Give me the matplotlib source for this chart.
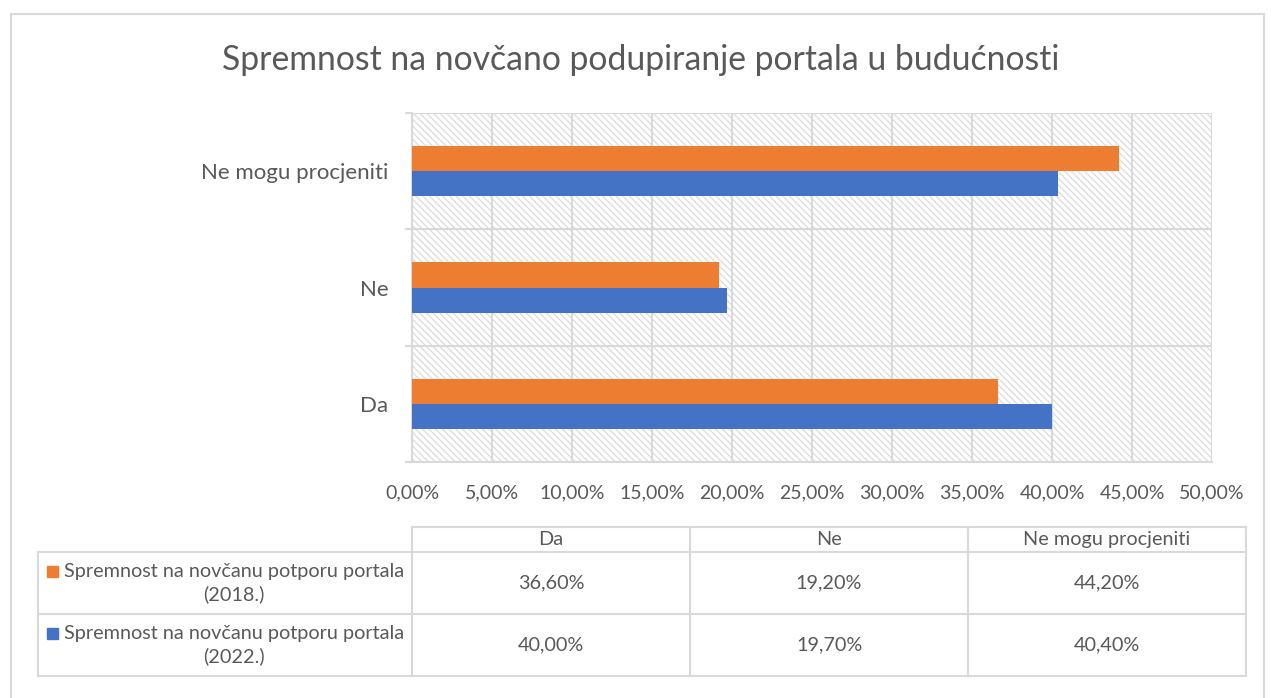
import matplotlib.pyplot as plt
from matplotlib.patches import Rectangle
from matplotlib.lines import Line2D

plt.rcParams['font.family'] = ['Lato', 'DejaVu Sans']
plt.rcParams['hatch.linewidth'] = 1.0

categories = ['Da', 'Ne', 'Ne mogu procjeniti']
series_names = ['Spremnost na novčanu potporu portala\n(2018.)',
                'Spremnost na novčanu potporu portala\n(2022.)']
vals_2018 = [36.6, 19.2, 44.2]
vals_2022 = [40.0, 19.7, 40.4]
colors = ['#ED7D31', '#4472C4']
xticks = [0, 5, 10, 15, 20, 25, 30, 35, 40, 45, 50]

W, H = 1271, 698
text_col = '#595959'
grid_col = '#d9d9d9'


def fx(px):
    return px / W


def fy(py):
    return 1 - py / H


def pct(v):
    return f'{v:.2f}%'.replace('.', ',')


fig = plt.figure(figsize=(W / 100, H / 100), dpi=100)

# outer chart frame
fig.patches.append(Rectangle((fx(11), fy(720)), fx(1253), fy(14) - fy(720),
                             transform=fig.transFigure, fill=False,
                             edgecolor=grid_col, lw=1.5))

fig.text(fx(641), fy(60), 'Spremnost na novčano podupiranje portala u budućnosti',
         ha='center', va='center', fontsize=24.3, color=text_col)

ax = fig.add_axes([fx(412), fy(462), fx(1212) - fx(412), fy(113) - fy(462)])

# hatched background
ax.add_patch(Rectangle((0, 0), 1, 1, transform=ax.transAxes, facecolor='white',
                       edgecolor='#dedede', hatch='\\' * 5, lw=0, zorder=0))

y = list(range(len(categories)))
h = 0.215
ax.barh([v + h / 2 for v in y], vals_2018, height=h, color=colors[0], zorder=3)
ax.barh([v - h / 2 for v in y], vals_2022, height=h, color=colors[1], zorder=3)

ax.set_xlim(0, 50)
ax.set_ylim(-0.5, 2.5)
ax.set_xticks(xticks)
ax.set_xticklabels([pct(t) for t in xticks], fontsize=14, color=text_col)
ax.set_yticks(y)
ax.set_yticklabels(categories, fontsize=16, color=text_col)
ax.set_yticks([v - 0.5 for v in y] + [2.5], minor=True)
ax.tick_params(axis='x', length=0, pad=16)
ax.tick_params(axis='y', which='major', length=0, pad=17)
ax.tick_params(axis='y', which='minor', length=5, color=grid_col, width=1.5)
ax.grid(axis='x', which='major', color=grid_col, lw=1.5, zorder=1)
ax.grid(axis='y', which='minor', color=grid_col, lw=1.5, zorder=1)
for s in ['top', 'right']:
    ax.spines[s].set_visible(False)
for s in ['left', 'bottom']:
    ax.spines[s].set_color(grid_col)
    ax.spines[s].set_linewidth(1.5)

# data table below the chart
col_x = [412, 690, 968, 1246]
row_y = [527, 552, 614, 676]
lab_x0 = 38
lines = []
lines.append(([col_x[0], col_x[-1]], [row_y[0], row_y[0]]))
for ry in row_y[1:]:
    lines.append(([lab_x0, col_x[-1]], [ry, ry]))
for cx in col_x:
    lines.append(([cx, cx], [row_y[0], row_y[-1]]))
lines.append(([lab_x0, lab_x0], [row_y[1], row_y[-1]]))
for xs, ys in lines:
    fig.add_artist(Line2D([fx(v) for v in xs], [fy(v) for v in ys],
                          transform=fig.transFigure, color=grid_col, lw=1.5))

tfs = 14.3
for i, cat in enumerate(categories):
    cx = (col_x[i] + col_x[i + 1]) / 2
    fig.text(fx(cx), fy((row_y[0] + row_y[1]) / 2), cat, ha='center', va='center',
             fontsize=tfs, color=text_col)

for r, (name, vals, c) in enumerate(zip(series_names, [vals_2018, vals_2022], colors)):
    yc = (row_y[r + 1] + row_y[r + 2]) / 2
    fig.text(fx(234), fy(yc), name, ha='center', va='center', fontsize=tfs,
             color=text_col, multialignment='center', linespacing=1.3)
    fig.patches.append(Rectangle((fx(47), fy(yc - 6)), fx(11), fy(yc - 17) - fy(yc - 6),
                                 transform=fig.transFigure, color=c))
    for i, v in enumerate(vals):
        cx = (col_x[i] + col_x[i + 1]) / 2
        fig.text(fx(cx), fy(yc), pct(v), ha='center', va='center', fontsize=tfs,
                 color=text_col)

fig.savefig('out.png', dpi=100)
